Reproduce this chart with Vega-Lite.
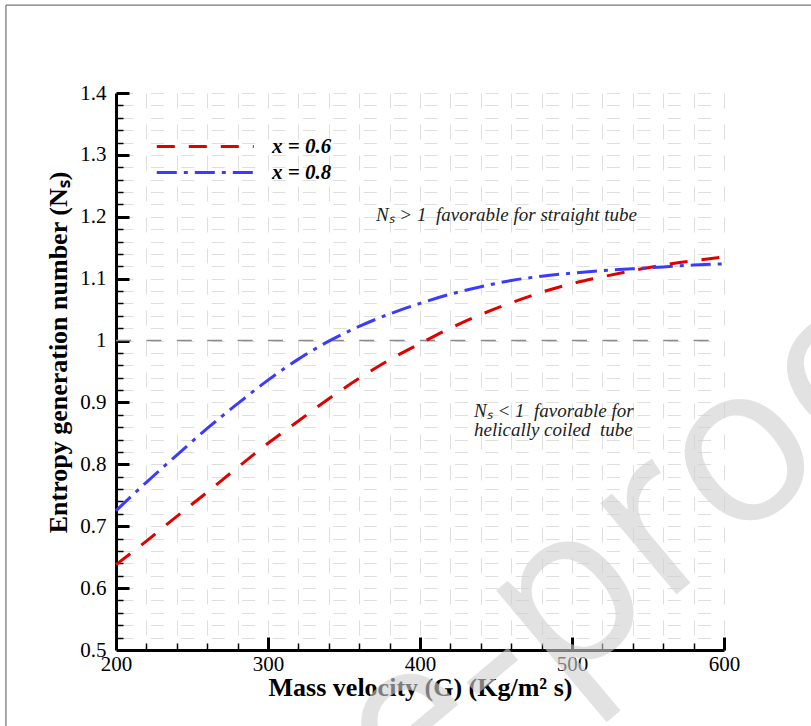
{
  "$schema": "https://vega.github.io/schema/vega-lite/v6.json",
  "autosize": {"type": "none"},
  "padding": {"left": 116, "top": 93, "right": 87, "bottom": 76},
  "width": 608,
  "height": 557,
  "background": "white",
  "config": {
    "view": {"stroke": null},
    "font": "Liberation Serif",
    "legend": {
      "orient": "none",
      "legendX": 39,
      "legendY": 42,
      "title": null,
      "symbolType": "M-1,0H9",
      "symbolSize": 376,
      "symbolStrokeWidth": 3,
      "labelFont": "Liberation Serif",
      "labelFontSize": 21,
      "labelFontWeight": "bold",
      "labelFontStyle": "italic",
      "labelColor": "black",
      "labelOffset": 94,
      "rowPadding": 4
    }
  },
  "resolve": {"axis": {"x": "independent", "y": "independent"}},
  "datasets": {
    "curves": [
      {"G": 200, "Ns": 0.638, "series": "x = 0.6"},
      {"G": 220, "Ns": 0.676, "series": "x = 0.6"},
      {"G": 240, "Ns": 0.716, "series": "x = 0.6"},
      {"G": 260, "Ns": 0.755, "series": "x = 0.6"},
      {"G": 280, "Ns": 0.795, "series": "x = 0.6"},
      {"G": 300, "Ns": 0.834, "series": "x = 0.6"},
      {"G": 320, "Ns": 0.870, "series": "x = 0.6"},
      {"G": 340, "Ns": 0.906, "series": "x = 0.6"},
      {"G": 360, "Ns": 0.939, "series": "x = 0.6"},
      {"G": 380, "Ns": 0.969, "series": "x = 0.6"},
      {"G": 400, "Ns": 0.995, "series": "x = 0.6"},
      {"G": 420, "Ns": 1.020, "series": "x = 0.6"},
      {"G": 440, "Ns": 1.042, "series": "x = 0.6"},
      {"G": 460, "Ns": 1.061, "series": "x = 0.6"},
      {"G": 480, "Ns": 1.078, "series": "x = 0.6"},
      {"G": 500, "Ns": 1.092, "series": "x = 0.6"},
      {"G": 520, "Ns": 1.103, "series": "x = 0.6"},
      {"G": 540, "Ns": 1.113, "series": "x = 0.6"},
      {"G": 560, "Ns": 1.122, "series": "x = 0.6"},
      {"G": 580, "Ns": 1.129, "series": "x = 0.6"},
      {"G": 600, "Ns": 1.135, "series": "x = 0.6"},
      {"G": 200, "Ns": 0.725, "series": "x = 0.8"},
      {"G": 220, "Ns": 0.771, "series": "x = 0.8"},
      {"G": 240, "Ns": 0.815, "series": "x = 0.8"},
      {"G": 260, "Ns": 0.858, "series": "x = 0.8"},
      {"G": 280, "Ns": 0.898, "series": "x = 0.8"},
      {"G": 300, "Ns": 0.936, "series": "x = 0.8"},
      {"G": 320, "Ns": 0.970, "series": "x = 0.8"},
      {"G": 340, "Ns": 0.999, "series": "x = 0.8"},
      {"G": 360, "Ns": 1.023, "series": "x = 0.8"},
      {"G": 380, "Ns": 1.043, "series": "x = 0.8"},
      {"G": 400, "Ns": 1.060, "series": "x = 0.8"},
      {"G": 420, "Ns": 1.075, "series": "x = 0.8"},
      {"G": 440, "Ns": 1.087, "series": "x = 0.8"},
      {"G": 460, "Ns": 1.097, "series": "x = 0.8"},
      {"G": 480, "Ns": 1.104, "series": "x = 0.8"},
      {"G": 500, "Ns": 1.109, "series": "x = 0.8"},
      {"G": 520, "Ns": 1.113, "series": "x = 0.8"},
      {"G": 540, "Ns": 1.116, "series": "x = 0.8"},
      {"G": 560, "Ns": 1.119, "series": "x = 0.8"},
      {"G": 580, "Ns": 1.122, "series": "x = 0.8"},
      {"G": 600, "Ns": 1.124, "series": "x = 0.8"}
    ]
  },
  "layer": [
    {
      "data": {"values": [{"G": 299.8, "Ns": 0.177, "label": "Journal Pre-proof"}]},
      "mark": {"type": "text", "angle": -40, "fontSize": 222, "font": "Open Sans", "fill": "#d0d0d0", "opacity": 0.6, "align": "center", "baseline": "middle"},
      "encoding": {
        "x": {"field": "G", "type": "quantitative", "scale": {"domain": [200, 600], "nice": false, "zero": false}, "axis": null},
        "y": {"field": "Ns", "type": "quantitative", "scale": {"domain": [0.5, 1.4], "nice": false, "zero": false}, "axis": null},
        "text": {"field": "label"}
      }
    },
    {
      "data": {"values": [{"G": 127.6, "G2": 700, "Ns": 1.542, "Ns2": 0.2}]},
      "mark": {"type": "rect", "fill": null, "stroke": "#555555", "strokeWidth": 1},
      "encoding": {
        "x": {"field": "G", "type": "quantitative", "axis": null},
        "x2": {"field": "G2"},
        "y": {"field": "Ns", "type": "quantitative", "axis": null},
        "y2": {"field": "Ns2"}
      }
    },
    {
      "data": {"values": [{"G": 200, "G2": 600, "Ns": 1.0}]},
      "mark": {"type": "rule", "color": "#8a8a8a", "strokeWidth": 1.5, "strokeDash": [15, 15.4]},
      "encoding": {
        "x": {
          "field": "G", "type": "quantitative",
          "axis": {
            "orient": "top", "offset": -557, "title": null, "labels": false, "domain": false, "grid": false,
            "values": [220,240,260,280,300,320,340,360,380,400,420,440,460,480,500,520,540,560,580,600],
            "ticks": true, "tickSize": 13, "tickColor": "black",
            "tickDash": {"condition": {"test": "datum.value % 100 === 0", "value": [13, 0]}, "value": [7, 40]},
            "tickWidth": {"condition": {"test": "datum.value % 100 === 0", "value": 3}, "value": 1.5}
          }
        },
        "x2": {"field": "G2"},
        "y": {
          "field": "Ns", "type": "quantitative",
          "axis": {
            "orient": "right", "offset": -608, "title": null, "labels": false, "domain": false, "grid": false,
            "values": [0.52,0.54,0.56,0.58,0.6,0.62,0.64,0.66,0.68,0.7,0.72,0.74,0.76,0.78,0.8,0.82,0.84,0.86,0.88,0.9,0.92,0.94,0.96,0.98,1.0,1.02,1.04,1.06,1.08,1.1,1.12,1.14,1.16,1.18,1.2,1.22,1.24,1.26,1.28,1.3,1.32,1.34,1.36,1.38,1.4],
            "ticks": true, "tickSize": 13, "tickColor": "black",
            "tickDash": {"condition": {"test": "round(datum.value*100) % 10 === 0", "value": [13, 0]}, "value": [7, 40]},
            "tickWidth": {"condition": {"test": "round(datum.value*100) % 10 === 0", "value": 3}, "value": 1.5}
          }
        }
      }
    },
    {
      "data": {"name": "curves"},
      "mark": {"type": "line", "strokeWidth": 3, "interpolate": "monotone"},
      "encoding": {
        "x": {
          "field": "G", "type": "quantitative",
          "axis": {
            "orient": "bottom",
            "title": "Mass velocity (G) (Kg/m² s)",
            "titleFont": "Liberation Serif", "titleFontSize": 26, "titleFontWeight": "bold", "titleColor": "black", "titlePadding": 0,
            "values": [200,220,240,260,280,300,320,340,360,380,400,420,440,460,480,500,520,540,560,580,600],
            "labelExpr": "datum.value % 100 === 0 ? datum.label : ''",
            "labelFont": "Liberation Serif", "labelFontSize": 21, "labelColor": "black",
            "labelFlush": false, "labelOverlap": false, "labelPadding": 3,
            "domainColor": "black", "domainWidth": 3,
            "ticks": false,
            "grid": true, "gridColor": "#dedede", "gridWidth": 1, "gridDash": [15, 16]
          }
        },
        "y": {
          "field": "Ns", "type": "quantitative",
          "axis": {
            "orient": "left",
            "title": "Entropy generation number (Nₛ)",
            "titleFont": "Liberation Serif", "titleFontSize": 26, "titleFontWeight": "bold", "titleColor": "black", "titlePadding": 8,
            "titleY": 259, "titleAlign": "center",
            "values": [0.5,0.52,0.54,0.56,0.58,0.6,0.62,0.64,0.66,0.68,0.7,0.72,0.74,0.76,0.78,0.8,0.82,0.84,0.86,0.88,0.9,0.92,0.94,0.96,0.98,1.0,1.02,1.04,1.06,1.08,1.1,1.12,1.14,1.16,1.18,1.2,1.22,1.24,1.26,1.28,1.3,1.32,1.34,1.36,1.38,1.4],
            "format": "~g",
            "labelExpr": "round(datum.value*100) % 10 === 0 ? datum.label : ''",
            "labelFont": "Liberation Serif", "labelFontSize": 21, "labelColor": "black",
            "labelFlush": false, "labelOverlap": false, "labelPadding": 10,
            "domainColor": "black", "domainWidth": 3,
            "ticks": false,
            "grid": true, "gridColor": "#dedede", "gridWidth": 1, "gridDash": [13, 17.4], "gridDashOffset": 26.4
          }
        },
        "color": {
          "field": "series", "type": "nominal",
          "scale": {"domain": ["x = 0.6", "x = 0.8"], "range": ["#e00000", "#3b3bff"]}
        },
        "strokeDash": {
          "field": "series", "type": "nominal",
          "scale": {"domain": ["x = 0.6", "x = 0.8"], "range": [[18, 14], [20, 7, 4, 7]]}
        }
      }
    },
    {
      "data": {"values": [
        {"G": 371, "Ns": 1.203, "label": "Nₛ > 1\u00a0 favorable for straight tube"},
        {"G": 435.5, "Ns": 0.886, "label": "Nₛ < 1\u00a0 favorable for"},
        {"G": 435.5, "Ns": 0.855, "label": "helically coiled\u00a0 tube"}
      ]},
      "mark": {"type": "text", "align": "left", "baseline": "middle", "font": "Liberation Serif", "fontStyle": "italic", "fontSize": 19, "color": "#222222"},
      "encoding": {
        "x": {"field": "G", "type": "quantitative", "axis": null},
        "y": {"field": "Ns", "type": "quantitative", "axis": null},
        "text": {"field": "label"}
      }
    }
  ]
}
